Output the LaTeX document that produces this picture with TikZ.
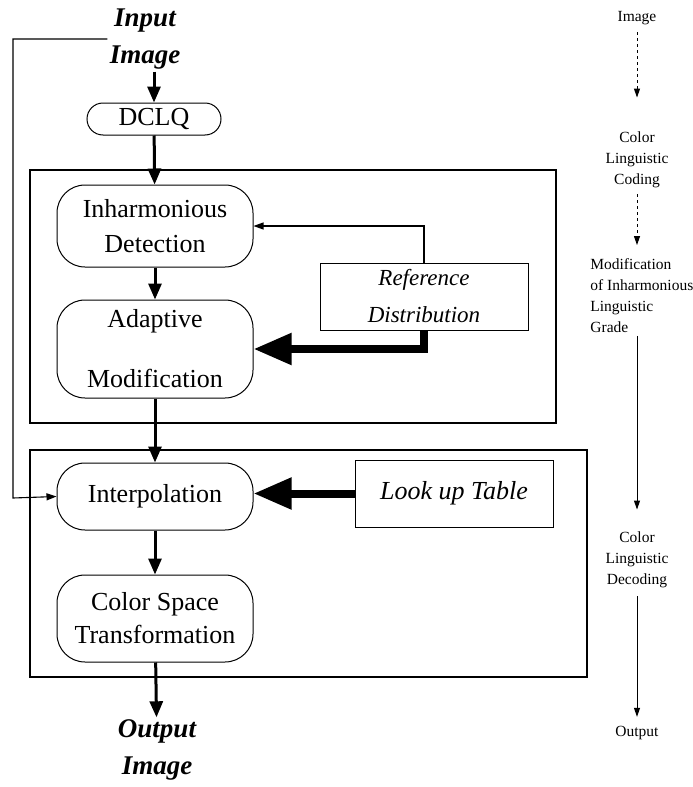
\documentclass[tikz,border=0pt]{standalone}
\usepackage{fontspec}
\setmainfont{Liberation Serif}
\usetikzlibrary{arrows.meta,positioning}

\begin{document}
\begin{tikzpicture}[x=1pt,y=-1pt,thick,
    proc/.style = {draw, rectangle, rounded corners=28pt, line width=1pt, inner sep=0pt,
        minimum width=196pt, align=center, font=\fontsize{26}{35}\selectfont},
    table/.style = {draw, rectangle, line width=0.8pt, inner sep=0pt, align=center,
        font=\fontsize{23}{37}\selectfont\itshape},
    io/.style = {inner sep=2pt, align=center, font=\fontsize{27}{37}\selectfont\bfseries\itshape},
    note/.style = {inner sep=0pt, align=center, font=\fontsize{15.5}{21}\selectfont},
    frame/.style = {draw, line width=2.5pt},
    flow/.style = {line width=3pt, -{Triangle[length=16pt,width=13pt]}},
    fat/.style = {line width=8pt, -{Triangle[length=38pt,width=30pt]}},
    fbline/.style = {line width=1.1pt, -{Triangle[length=10pt,width=7pt]}},
    side/.style = {line width=1pt, -{Triangle[length=9pt,width=6pt]}}]

    \useasboundingbox (0,0) rectangle (693,787);

    % main flow
    \node[io] (in) at (145,39) {Input\\Image};
    \node[proc, rounded corners=16pt, minimum width=134pt, minimum height=32pt] (dclq) at (154,119) {DCLQ};

    \node[proc, minimum height=82pt] (inh) at (155,226) {Inharmonious\\Detection};
    \node[proc, minimum height=98pt] (adapt) at (155,349) {Adaptive\\[25pt]Modification};
    \node[table, minimum width=208pt, minimum height=67pt] (ref) at (424,296.5) {Reference\\Distribution};

    \node[proc, minimum height=67pt] (interp) at (155,496.5) {Interpolation};
    \node[proc, minimum height=87pt] (cst) at (155,618.5) {Color Space\\[-2pt]Transformation};
    \node[table, minimum width=198pt, minimum height=67pt, font=\fontsize{26}{30}\selectfont\itshape] (lut) at (454,493.5) {Look up Table};

    \node[io] (out) at (157,750) {Output\\Image};

    \draw[frame] (30,170) rectangle (556,423);
    \draw[frame] (30,450) rectangle (587,677);

    \draw[flow] (in.south -| dclq) -- (dclq);
    \draw[flow] (dclq) -- (inh);
    \draw[flow] (inh) -- (adapt);
    \draw[flow] (adapt) -- (interp);
    \draw[flow] (interp) -- (cst);
    \draw[flow] (cst) -- (out);

    \draw[fbline] (ref.north) |- (inh.east);
    \draw[fat] (ref.south) |- (adapt.east);
    \draw[fat] (lut.west) -- (lut.west -| interp.east);

    \coordinate (fb) at (13,498);
    \draw[fbline] (in.west) -| (fb) -- (interp.west);

    % right column
    \node[note] (r1) at (637,18) {Image};
    \node[note] (r2) at (637,160) {Color\\Linguistic\\Coding};
    \node[note, align=left, anchor=west] (r3) at (590,295.5) {Modification\\of Inharmonious\\Linguistic\\Grade};
    \node[note] (r4) at (637,560) {Color\\Linguistic\\Decoding};
    \node[note] (r5) at (637,733) {Output};

    \draw[side, dashed, shorten <=7pt, shorten >=34pt] (r1) -- (r2);
    \draw[side, dashed, shorten <=6pt, shorten >=13pt] (r2.south) -- (r2.south |- r3.north);
    \draw[side, shorten <=3pt, shorten >=22pt] (r2.south |- r3.south) -- (r4.north);
    \draw[side, shorten <=8pt, shorten >=9pt] (r4) -- (r5);

\end{tikzpicture}
\end{document}
